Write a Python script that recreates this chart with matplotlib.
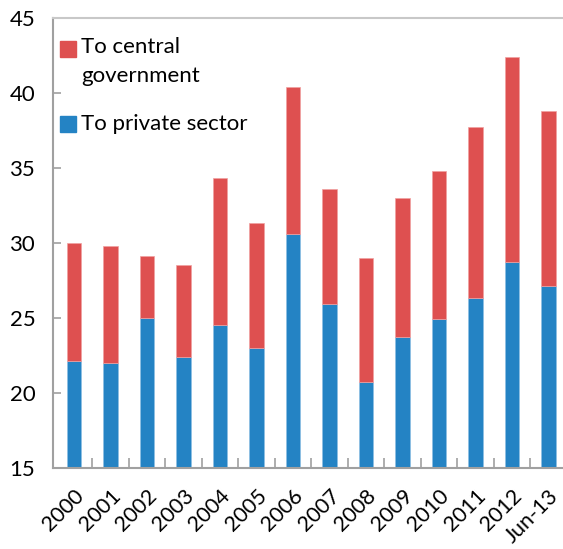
import numpy as np
import matplotlib.pyplot as plt
from matplotlib.patches import Rectangle

plt.rcParams['font.family'] = ['Lato', 'DejaVu Sans']

# Werte
labels = ['2000', '2001', '2002', '2003', '2004', '2005', '2006',
          '2007', '2008', '2009', '2010', '2011', '2012', 'Jun-13']
private = [22.1, 22.0, 25.0, 22.4, 24.5, 23.0, 30.6,
           25.9, 20.7, 23.7, 24.9, 26.3, 28.7, 27.1]
total = [30.0, 29.8, 29.1, 28.5, 34.3, 31.3, 40.4,
         33.6, 29.0, 33.0, 34.8, 37.7, 42.4, 38.8]

red = '#DE5050'
blue = '#2483C4'

central = np.array(total) - np.array(private)
x = np.arange(len(labels))

fig = plt.figure(figsize=(5.63, 5.49), dpi=100)
ax = fig.add_axes([0.0947, 0.1475, 0.9053, 0.8205])

ax.bar(x, private, width=0.39, color=blue, edgecolor='#8DBFE3', linewidth=0.5)
ax.bar(x, central, width=0.39, bottom=private, color=red,
       edgecolor='#F0A0A0', linewidth=0.5)

ax.set_ylim(15, 45)
ax.set_xlim(-0.57, 13.4)
ax.set_yticks(range(15, 46, 5))
ax.set_xticks(x)
ax.set_xticklabels(labels, rotation=45, ha='right', rotation_mode='anchor',
                   fontsize=15.5)
ax.tick_params(axis='x', length=0, pad=13)
ax.set_xticks(np.arange(0.5, 13, 1), minor=True)
ax.tick_params(axis='x', which='minor', direction='in', length=7,
               width=1.2, color='#A0A0A0')
ax.tick_params(axis='y', direction='in', length=6, width=1.2,
               color='#A0A0A0', labelsize=16, pad=13)

for s in ['left', 'bottom']:
    ax.spines[s].set_color('#A0A0A0')
    ax.spines[s].set_linewidth(1.5)
ax.spines['top'].set_color('#C8C8C8')
ax.spines['top'].set_linewidth(1.5)
ax.spines['right'].set_visible(False)

# Legende
ax.add_patch(Rectangle((0.013, 0.913), 0.032, 0.036, color=red,
                       transform=ax.transAxes, clip_on=False))
ax.text(0.054, 0.956, 'To central\ngovernment', transform=ax.transAxes,
        va='top', ha='left', fontsize=16, linespacing=1.55)
ax.add_patch(Rectangle((0.013, 0.745), 0.032, 0.036, color=blue,
                       transform=ax.transAxes, clip_on=False))
ax.text(0.054, 0.764, 'To private sector', transform=ax.transAxes,
        va='center', ha='left', fontsize=16)

fig.savefig('out.png', dpi=100)
